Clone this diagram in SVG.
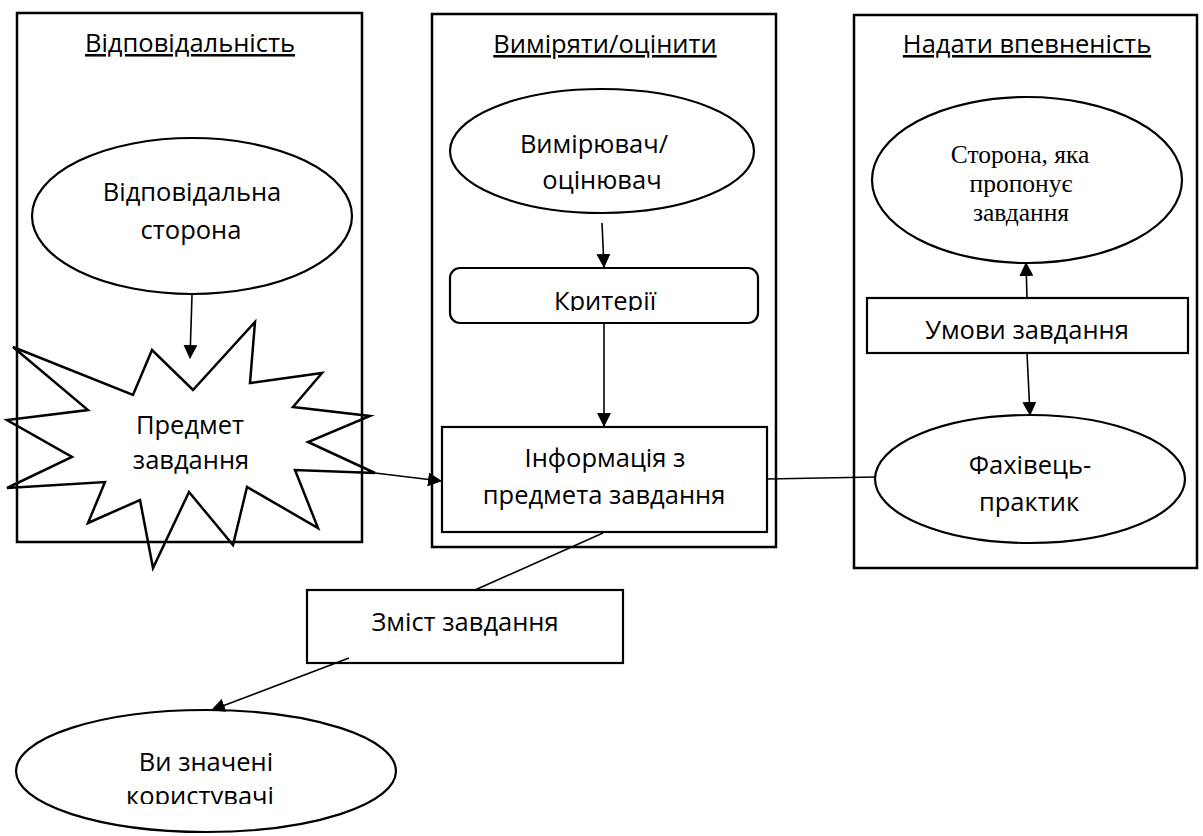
<svg xmlns="http://www.w3.org/2000/svg" width="1203" height="836" viewBox="0 0 1203 836">
<defs>
<style>
.box{fill:none;stroke:#000;stroke-width:2.5}
.shape{fill:#fff;stroke:#000;stroke-width:2.2}
.star{fill:none;stroke:#000;stroke-width:2.5;stroke-linejoin:miter}
.conn{fill:none;stroke:#000;stroke-width:1.6}
.t{font-family:"Open Sans","Noto Sans",sans-serif;font-size:25.5px;fill:#000;text-anchor:middle}
.ts{font-family:"Liberation Serif","Times New Roman",serif;font-size:25.5px;fill:#000;text-anchor:middle}
.title{text-decoration:underline}
</style>
<marker id="arr" markerUnits="userSpaceOnUse" markerWidth="14" markerHeight="14" viewBox="0 0 14 14" refX="13" refY="7" orient="auto">
<path d="M0,0 L14,7 L0,14 Z" fill="#000"/>
</marker>
<clipPath id="clipK"><rect x="440" y="260" width="330" height="51"/></clipPath>
<clipPath id="clipU"><rect x="0" y="700" width="420" height="104"/></clipPath>
</defs>

<g id="lane-responsibility">
<rect class="box" x="17" y="13" width="345" height="529"/>
<text class="t title" x="190" y="52">Відповідальність</text>
</g>
<g id="lane-measure">
<rect class="box" x="432" y="14" width="344" height="533"/>
<text class="t title" x="605" y="53">Виміряти/оцінити</text>
</g>
<g id="lane-assurance">
<rect class="box" x="854" y="15" width="343" height="553"/>
<text class="t title" x="1027" y="53">Надати впевненість</text>
</g>

<g id="node-responsible-party">
<ellipse class="shape" cx="192" cy="216" rx="160" ry="78"/>
<text class="t" x="192" y="201">Відповідальна</text>
<text class="t" x="191" y="239">сторона</text>
</g>

<g id="node-subject-matter">
<polygon class="star" points="13,347 133,395 152,350 193,390 255,322 250,383 322,373 293,407 370,416 308,442 375,473 295,470 318,528 247,487 233,545 189,492 153,568 140,500 88,523 105,482 7,488 72,457 7,420 88,410"/>
<text class="t" x="190" y="434">Предмет</text>
<text class="t" x="191" y="469">завдання</text>
</g>

<g id="node-measurer">
<ellipse class="shape" cx="602" cy="151" rx="152" ry="62"/>
<text class="t" x="594" y="153">Вимірювач/</text>
<text class="t" x="602" y="189">оцінювач</text>
</g>

<g id="node-criteria">
<rect class="shape" x="450" y="268" width="308" height="55" rx="10" ry="10"/>
<text class="t" x="605" y="310" clip-path="url(#clipK)">Критерії</text>
</g>

<g id="node-subject-info">
<rect class="shape" x="442" y="427" width="325" height="105"/>
<text class="t" x="605" y="467">Інформація з</text>
<text class="t" x="604" y="504">предмета завдання</text>
</g>

<g id="node-engaging-party">
<ellipse class="shape" cx="1027" cy="180" rx="155" ry="83"/>
<text class="ts" x="1020" y="163">Сторона, яка</text>
<text class="ts" x="1021" y="192">пропонує</text>
<text class="ts" x="1021" y="221">завдання</text>
</g>

<g id="node-terms">
<rect class="shape" x="867" y="298" width="321" height="55"/>
<text class="t" x="1027" y="339">Умови завдання</text>
</g>

<g id="node-practitioner">
<ellipse class="shape" cx="1030" cy="479" rx="155" ry="64"/>
<text class="t" x="1030" y="474">Фахівець-</text>
<text class="t" x="1029" y="511">практик</text>
</g>

<g id="node-assurance-report">
<rect class="shape" x="307" y="590" width="316" height="73"/>
<text class="t" x="465" y="631">Зміст завдання</text>
</g>

<g id="node-intended-users">
<ellipse class="shape" cx="206" cy="771" rx="190" ry="61"/>
<text class="t" x="206" y="771">Ви значені</text>
<text class="t" x="200" y="805" clip-path="url(#clipU)">користувачі</text>
</g>

<g id="connectors">
<line class="conn" x1="192" y1="295" x2="190" y2="358" marker-end="url(#arr)"/>
<line class="conn" x1="602" y1="223" x2="604" y2="267" marker-end="url(#arr)"/>
<line class="conn" x1="604" y1="323" x2="604" y2="426" marker-end="url(#arr)"/>
<line class="conn" x1="375" y1="473" x2="441" y2="481" marker-end="url(#arr)"/>
<line class="conn" x1="767" y1="479" x2="875" y2="477"/>
<line class="conn" x1="1027" y1="298" x2="1026" y2="263" marker-end="url(#arr)"/>
<line class="conn" x1="1027" y1="353" x2="1030" y2="415" marker-end="url(#arr)"/>
<line class="conn" x1="603" y1="533" x2="475" y2="590"/>
<line class="conn" x1="349" y1="658" x2="212" y2="710" marker-end="url(#arr)"/>
</g>
</svg>
